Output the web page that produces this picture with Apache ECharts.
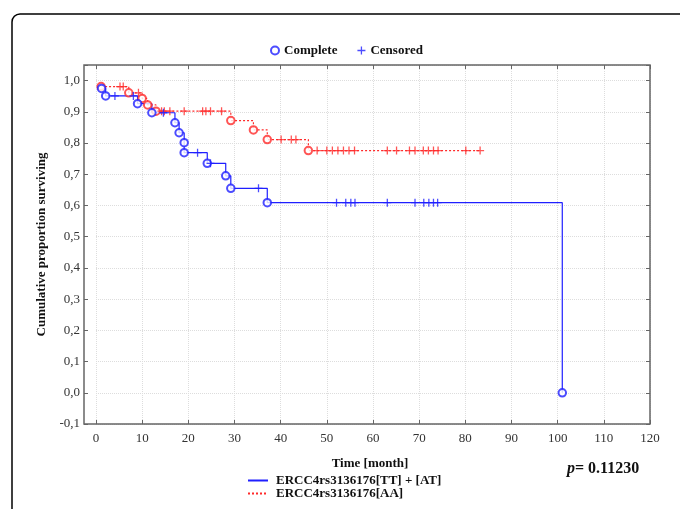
<!DOCTYPE html>
<html><head><meta charset="utf-8">
<script src="https://cdn.jsdelivr.net/npm/echarts@6/dist/echarts.min.js"></script>
<style>html,body{margin:0;padding:0;background:#fff}#c{width:680px;height:509px}</style>
</head><body><div id="c"></div>
<script>
// ---- data ----
const blueName = 'ERCC4rs3136176[TT] + [AT]';
const redName = 'ERCC4rs3136176[AA]';
const blueEventT = [1.2, 2.1, 9.0, 12.1, 17.1, 18.0, 19.1, 19.1, 24.1, 28.1, 29.2, 37.1, 101];
const blueEventS = [0.975, 0.951, 0.926, 0.897, 0.865, 0.833, 0.801, 0.769, 0.735, 0.695, 0.655, 0.609, 0.0];
const blueCensorT = [4.1, 8.1, 14.6, 22.0, 24.8, 35.2, 52.1, 54.1, 55.2, 56.1, 63.1, 69.1, 71.0, 72.1, 73.1, 74.0];
const redEventT = [1.1, 7.1, 10.0, 11.2, 13.0, 29.2, 34.1, 37.1, 46.0];
const redEventS = [0.981, 0.961, 0.943, 0.922, 0.902, 0.872, 0.842, 0.811, 0.776];
const redCensorT = [5.2, 5.9, 9.2, 14.2, 14.8, 16.0, 19.1, 23.1, 23.8, 24.8, 27.2, 40.1, 42.3, 43.3, 47.9, 50.0, 51.2, 52.4, 53.6, 54.8, 56.0, 63.1, 65.1, 67.9, 69.1, 70.9, 72.0, 73.1, 74.1, 80.1, 83.2];
const xTicks = [0, 120, 10];
const yTicks = [-0.1, 1.05, 0.1];
const pText = '0.11230';

// ---- helpers ----
function levelAt(evT, evS, t) {
  let s = evS[0];
  for (let i = 0; i < evT.length; i++) { if (evT[i] <= t) s = evS[i]; }
  return s;
}
function buildLine(evT, evS, cT) {
  const pts = evT.map((t, i) => [t, evS[i], 0]).concat(cT.map(t => [t, levelAt(evT, evS, t), 1]));
  pts.sort((a, b) => a[0] - b[0] || a[2] - b[2] || b[1] - a[1]);
  return pts.map(p => [p[0], p[1]]);
}
const blue = '#1f1fff', red = '#ff2a2a';
const serif = "'Liberation Serif', 'Times New Roman', serif";
const plusPath = 'path://M-0.16,-1 L0.16,-1 L0.16,-0.16 L1,-0.16 L1,0.16 L0.16,0.16 L0.16,1 L-0.16,1 L-0.16,0.16 L-1,0.16 L-1,-0.16 L-0.16,-0.16 Z';

const chart = echarts.init(document.getElementById('c'), null, {renderer: 'canvas'});
const tickStyle = {show: true, inside: true, length: 4, lineStyle: {color: '#666', width: 1}};
const split = {show: true, lineStyle: {color: '#ddd', type: 'dotted', width: 1}};
const noLine = {show: false, onZero: false};
chart.setOption({
  animation: false,
  backgroundColor: '#fff',
  grid: {left: 96, right: 30, top: 65, bottom: 85},
  xAxis: [
    {type: 'value', min: xTicks[0], max: xTicks[1], interval: xTicks[2], position: 'bottom',
     axisLine: noLine, axisTick: tickStyle, splitLine: split,
     axisLabel: {margin: 8, color: '#333', fontFamily: serif, fontSize: 13},
     name: 'Time [month]', nameLocation: 'middle', nameGap: 33,
     nameTextStyle: {fontFamily: serif, fontSize: 13, fontWeight: 'bold', color: '#111', padding: [0, 6, 0, 0]}},
    {type: 'value', min: xTicks[0], max: xTicks[1], interval: xTicks[2], position: 'top',
     axisLine: noLine, axisTick: tickStyle, splitLine: {show: false}, axisLabel: {show: false}}
  ],
  yAxis: [
    {type: 'value', min: yTicks[0], max: yTicks[1], interval: yTicks[2], position: 'left', offset: 12,
     axisLine: noLine, axisTick: tickStyle, splitLine: split,
     axisLabel: {margin: 4, color: '#333', fontFamily: serif, fontSize: 13,
       formatter: v => Math.abs(v * 10 - Math.round(v * 10)) > 0.01 ? '' : v.toFixed(1).replace('.', ',')},
     name: 'Cumulative proportion surviving', nameLocation: 'middle', nameGap: 36, nameRotate: 90,
     nameTextStyle: {fontFamily: serif, fontSize: 13, fontWeight: 'bold', color: '#111'}},
    {type: 'value', min: yTicks[0], max: yTicks[1], interval: yTicks[2], position: 'right',
     axisLine: noLine, axisTick: tickStyle, splitLine: {show: false}, axisLabel: {show: false}}
  ],
  legend: [
    {data: ['Complete', 'Censored'], left: 265, top: 39, itemWidth: 8, itemHeight: 8, itemGap: 20,
     textStyle: {fontFamily: serif, fontSize: 13, fontWeight: 'bold', color: '#111'}, selectedMode: false},
    {data: [blueName, redName], orient: 'vertical', left: 242, top: 469, itemWidth: 20, itemHeight: 8, itemGap: 0,
     itemStyle: {opacity: 0},
     textStyle: {fontFamily: serif, fontSize: 13, fontWeight: 'bold', color: '#111', lineHeight: 12, padding: [0, 0, 0, 3]}, selectedMode: false}
  ],
  series: [
    {name: blueName, type: 'line', step: 'end', symbol: 'none', showSymbol: false, data: buildLine(blueEventT, blueEventS, blueCensorT),
     lineStyle: {color: blue, width: 1.2}, itemStyle: {color: blue}, z: 2},
    {name: redName, type: 'line', step: 'end', symbol: 'none', showSymbol: false, data: buildLine(redEventT, redEventS, redCensorT),
     lineStyle: {color: red, width: 1.2, type: [2, 2]}, itemStyle: {color: red}, z: 2},
    {name: 'Complete', type: 'scatter', symbol: 'emptyCircle', symbolSize: 7.5,
     data: blueEventT.map((t, i) => [t, blueEventS[i]]), itemStyle: {color: blue, borderWidth: 1.2}, z: 5},
    {name: 'Censored', type: 'scatter', symbol: plusPath, symbolSize: 8,
     data: blueCensorT.map(t => [t, levelAt(blueEventT, blueEventS, t)]), itemStyle: {color: blue}, z: 5},
    {name: 'Complete', type: 'scatter', symbol: 'emptyCircle', symbolSize: 7.5,
     data: redEventT.map((t, i) => [t, redEventS[i]]), itemStyle: {color: red, borderWidth: 1.2}, z: 4},
    {name: 'Censored', type: 'scatter', symbol: plusPath, symbolSize: 8,
     data: redCensorT.map(t => [t, levelAt(redEventT, redEventS, t)]), itemStyle: {color: red}, z: 4}
  ],
  graphic: [
    {type: 'rect', shape: {x: 12, y: 14, width: 720, height: 540, r: 8}, style: {fill: null, stroke: '#000', lineWidth: 1.5}, silent: true},
    {type: 'rect', shape: {x: 84, y: 65, width: 566, height: 359}, style: {fill: null, stroke: '#666', lineWidth: 1.5}, silent: true, z: 10},
    {type: 'text', left: 567, top: 461, style: {
      text: '{i|p}{b|= ' + pText + '}',
      rich: {i: {fontFamily: serif, fontSize: 16, fontWeight: 'bold', fontStyle: 'italic', fill: '#111'},
             b: {fontFamily: serif, fontSize: 16, fontWeight: 'bold', fill: '#111'}}}}
  ]
});
</script></body></html>
